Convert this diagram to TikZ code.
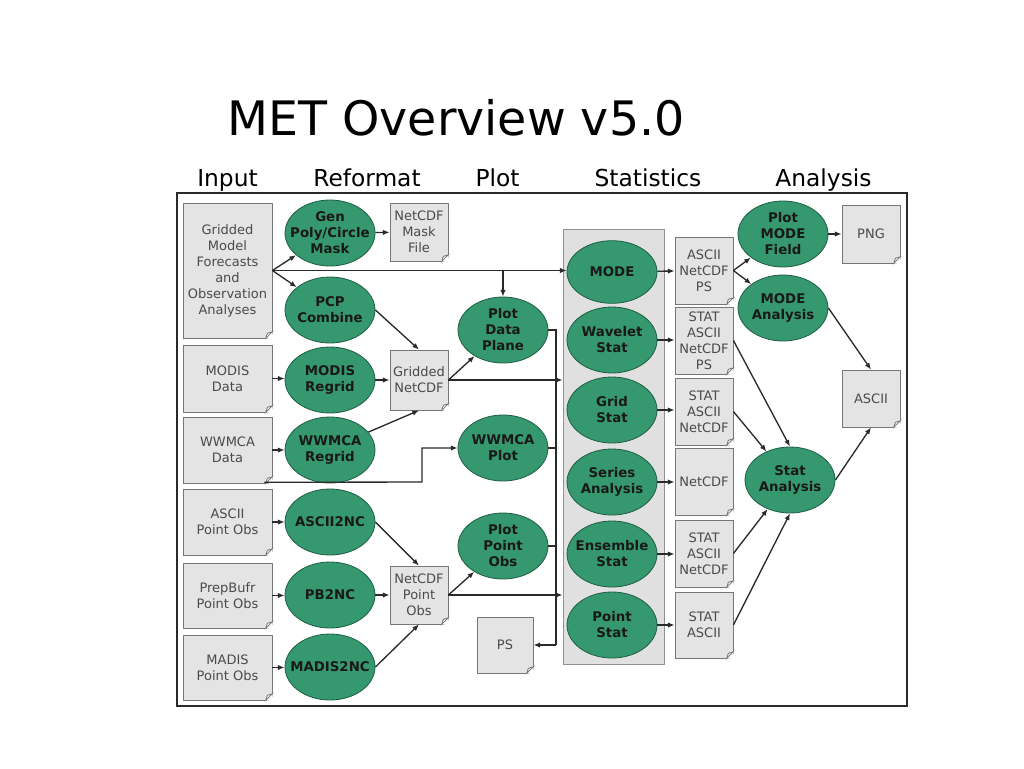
\documentclass[tikz,border=0pt]{standalone}
\usepackage{fontspec}
\setmainfont{DejaVu Sans}
\usetikzlibrary{shapes.geometric,arrows.meta}
\definecolor{metgreen}{HTML}{35986E}
\definecolor{metedge}{HTML}{1F5F45}
\definecolor{docfill}{HTML}{E4E4E4}
\definecolor{docline}{HTML}{777777}
\definecolor{doctext}{HTML}{4A4A4A}
\definecolor{boxfill}{HTML}{E0E0E0}
\definecolor{wirecol}{HTML}{2A2A2A}
\tikzset{
  tool/.style={ellipse, draw=metedge, fill=metgreen, line width=0.6pt, minimum width=67.5pt, minimum height=49.5pt, inner xsep=-7pt, inner ysep=-2pt, align=center, font=\fontsize{10}{12}\selectfont\bfseries, text=black!90},
  doc/.style={rectangle, draw=docline, fill=docfill, line width=0.6pt, inner sep=0pt, align=center, font=\fontsize{9.75}{12}\selectfont, text=doctext},
  indoc/.style={doc, minimum width=66.75pt},
  outdoc/.style={doc, minimum width=43.5pt},
  arr/.style={draw=wirecol, line width=1pt, -{Latex[length=5pt,width=4pt]}},
  wire/.style={draw=wirecol, line width=1pt},
  head/.style={font=\fontsize{17.5}{20}\selectfont, anchor=base},
}
\begin{document}
\begin{tikzpicture}[x=0.75pt, y=-0.75pt]
    \useasboundingbox[fill=white] (0,0) rectangle (1024,768);

    % Заголовок и колонки
    \node[font=\fontsize{35.6}{40}\selectfont, anchor=base] (title) at (456,135) {MET Overview v5.0};
    \node[head] (hInput) at (227.5,186) {Input};
    \node[head] (hReformat) at (367,186) {Reformat};
    \node[head] (hPlot) at (497.5,186) {Plot};
    \node[head] (hStat) at (648,186) {Statistics};
    \node[head] (hAnalysis) at (823.5,186) {Analysis};
    \draw[wirecol, line width=1.5pt] (177,193) rectangle (907,706);

    % Серый блок статистики
    \node[draw=docline!80, fill=boxfill, line width=0.6pt, minimum width=75.75pt, minimum height=326.25pt] (stats) at (613.5,446.5) {};

    % Входные данные
    \node[indoc, minimum height=101.25pt] (gmf) at (227.5,270.5) {Gridded\\Model\\Forecasts\\and\\Observation\\Analyses};
    \node[indoc, minimum height=50.25pt] (modis) at (227.5,378.5) {MODIS\\Data};
    \node[indoc, minimum height=49.5pt] (wwmcaD) at (227.5,450) {WWMCA\\Data};
    \node[indoc, minimum height=49.5pt] (asciiD) at (227.5,522) {ASCII\\Point Obs};
    \node[indoc, minimum height=48.75pt] (prepD) at (227.5,595.5) {PrepBufr\\Point Obs};
    \node[indoc, minimum height=48.75pt] (madisD) at (227.5,667.5) {MADIS\\Point Obs};

    % Reformat
    \node[tool] (genpoly) at (330,233) {Gen\\Poly/Circle\\Mask};
    \node[tool] (pcp) at (330,310) {PCP\\Combine};
    \node[tool] (modisR) at (330,380) {MODIS\\Regrid};
    \node[tool] (wwmcaR) at (330,450) {WWMCA\\Regrid};
    \node[tool] (ascii2nc) at (330,522) {ASCII2NC};
    \node[tool] (pb2nc) at (330,595) {PB2NC};
    \node[tool] (madis2nc) at (330,667) {MADIS2NC};
    \node[outdoc, minimum height=43.5pt] (maskfile) at (419,232) {NetCDF\\Mask\\File};
    \node[outdoc, minimum height=45pt] (gridnc) at (419,380) {Gridded\\NetCDF};
    \node[outdoc, minimum height=43.5pt] (pointnc) at (419,595) {NetCDF\\Point\\Obs};

    % Plot
    \node[tool] (pdp) at (503,330) {Plot\\Data\\Plane};
    \node[tool] (wwmcaP) at (503,448) {WWMCA\\Plot};
    \node[tool] (ppo) at (503,546) {Plot\\Point\\Obs};
    \node[doc, minimum width=42pt, minimum height=42pt] (ps) at (505,645) {PS};

    % Statistics
    \node[tool, minimum height=47pt] (mode) at (612,272) {MODE};
    \node[tool] (wavelet) at (612,340) {Wavelet\\Stat};
    \node[tool] (grid) at (612,410) {Grid\\Stat};
    \node[tool] (series) at (612,482) {Series\\Analysis};
    \node[tool] (ensemble) at (612,554) {Ensemble\\Stat};
    \node[tool] (point) at (612,625) {Point\\Stat};
    \node[outdoc, minimum height=50.25pt] (modeOut) at (704,270.5) {ASCII\\NetCDF\\PS};
    \node[outdoc, minimum height=50.25pt] (waveOut) at (704,340.5) {STAT\\ASCII\\NetCDF\\PS};
    \node[outdoc, minimum height=50.25pt] (gridOut) at (704,411.5) {STAT\\ASCII\\NetCDF};
    \node[outdoc, minimum height=50.25pt] (seriesOut) at (704,481.5) {NetCDF};
    \node[outdoc, minimum height=50.25pt] (ensOut) at (704,553.5) {STAT\\ASCII\\NetCDF};
    \node[outdoc, minimum height=49.5pt] (pointOut) at (704,625) {STAT\\ASCII};

    % Analysis
    \node[tool] (plotmode) at (783,234) {Plot\\MODE\\Field};
    \node[tool] (modeAn) at (783,308) {MODE\\Analysis};
    \node[tool] (statAn) at (790,480) {Stat\\Analysis};
    \node[outdoc, minimum height=43.5pt] (png) at (871,234) {PNG};
    \node[outdoc, minimum height=42.75pt] (asciiOut) at (871,398.5) {ASCII};

    % Загнутые уголки
    \foreach \d in {gmf,modis,wwmcaD,asciiD,prepD,madisD,maskfile,gridnc,pointnc,ps,modeOut,waveOut,gridOut,seriesOut,ensOut,pointOut,png,asciiOut}{
        \fill[white] ([xshift=-5pt]\d.south east) -- ([xshift=0.6pt,yshift=-0.6pt]\d.south east) -- ([yshift=5pt]\d.south east) -- cycle;
        \draw[docline, line width=0.6pt, fill=white!60!docfill] ([xshift=-5pt]\d.south east) -- ([xshift=-3.8pt,yshift=3.8pt]\d.south east) -- ([yshift=5pt]\d.south east) -- cycle;
    }

    % Связи: входы
    \draw[arr] (gmf.east) -- (genpoly);
    \draw[arr] (gmf.east) -- (pcp);
    \draw[arr] (gmf.east) -- (gmf.east -| mode.west);
    \draw[arr] (gmf.east -| pdp) -- (pdp);
    \draw[arr] (genpoly) -- (maskfile);
    \draw[arr] (pcp.east) -- (gridnc.north);
    \draw[arr] (modis) -- (modis -| modisR.west);
    \draw[arr] (modisR) -- (gridnc);
    \draw[arr] (wwmcaD) -- (wwmcaD -| wwmcaR.west);
    \draw[arr] (wwmcaR.25) -- (gridnc.south);
    \coordinate (jog) at (422,482);
    \draw[arr] ([xshift=-6pt,yshift=0.8pt]wwmcaD.south east) -- (jog) |- (wwmcaP.west);
    \draw[arr] (asciiD) -- (asciiD -| ascii2nc.west);
    \draw[arr] (prepD) -- (prepD -| pb2nc.west);
    \draw[arr] (madisD) -- (madisD -| madis2nc.west);
    \draw[arr] (ascii2nc.east) -- (pointnc.north);
    \draw[arr] (pb2nc) -- (pointnc);
    \draw[arr] (madis2nc.east) -- (pointnc.south);

    % Связи: plot и statistics
    \draw[arr] (gridnc.east) -- (pdp);
    \draw[arr] (gridnc.east) -- (gridnc.east -| stats.west);
    \draw[arr] (pointnc.east) -- (ppo);
    \draw[arr] (pointnc.east) -- (pointnc.east -| stats.west);
    \coordinate (bustop) at (556,330);
    \coordinate (busbot) at (556,645);
    \draw[wire] (pdp.east) -- (bustop) -- (busbot);
    \draw[arr] (busbot) -- (ps.east);
    \draw[wire] (wwmcaP.east) -- (wwmcaP.east -| bustop);
    \draw[wire] (ppo.east) -- (ppo.east -| bustop);

    \draw[arr] (mode) -- (modeOut);
    \draw[arr] (wavelet) -- (wavelet -| waveOut.west);
    \draw[arr] (grid) -- (grid -| gridOut.west);
    \draw[arr] (series) -- (series -| seriesOut.west);
    \draw[arr] (ensemble) -- (ensemble -| ensOut.west);
    \draw[arr] (point) -- (pointOut);

    % Связи: analysis
    \draw[arr] (modeOut.east) -- (plotmode);
    \draw[arr] (modeOut.east) -- (modeAn);
    \draw[arr] (plotmode) -- (png);
    \draw[arr] (modeAn.east) -- (asciiOut.north);
    \draw[arr] (waveOut.east) -- (statAn.north);
    \draw[arr] (gridOut.east) -- (statAn);
    \draw[arr] (ensOut.east) -- (statAn);
    \draw[arr] (pointOut.east) -- (statAn.south);
    \draw[arr] (statAn.east) -- (asciiOut.south);
\end{tikzpicture}
\end{document}
